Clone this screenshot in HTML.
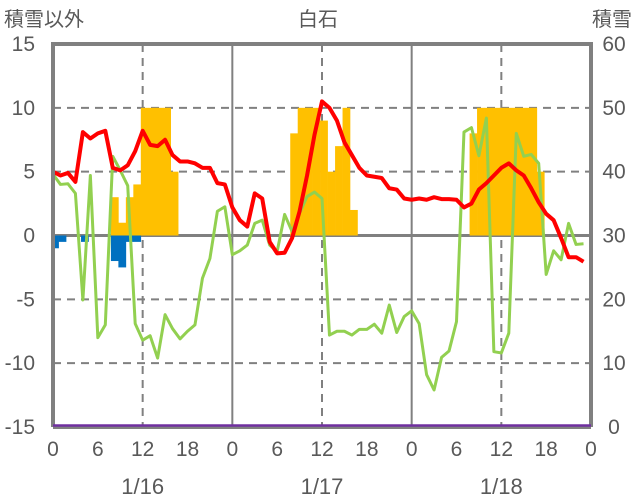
<!DOCTYPE html>
<html><head><meta charset="utf-8"><style>
body{margin:0;background:#fff;}
svg{display:block;font-family:"Liberation Sans","Noto Sans CJK JP",sans-serif;}
</style></head><body>
<svg id="chart" width="636" height="501">
<text x="318" y="26" font-size="20" fill="#595959" text-anchor="middle">白石</text>
<text x="4" y="26" font-size="20" fill="#595959">積雪以外</text>
<text x="632" y="26" font-size="20" fill="#595959" text-anchor="end">積雪</text>
<g id="grid"></g>
<g id="bars"></g>
<g id="lines"></g>
<g id="frame"></g>
<g id="labels"></g>
</svg>
<script>
const orangeVals=[0,0,0,0,0,0,0,0,3,1,3,4,10,10,10,10,5,0,0,0,0,0,0,0,0,0,0,0,0,0,0,0,8,10,10,10,9,5,7,10,2,0,0,0,0,0,0,0,0,0,0,0,0,0,0,0,8,10,10,10,10,10,10,10,10,5,0,0,0,0,0,0];
const blueVals=[-1,-0.5,0,0,-0.5,0,0,0,-2,-2.5,-0.5,-0.5];
const redVals=[5.0,4.7,4.9,4.2,8.1,7.6,8.0,8.2,5.3,5.1,5.5,6.6,8.2,7.1,7.0,7.5,6.3,5.8,5.8,5.65,5.3,5.3,4.1,4.0,2.2,1.2,0.7,3.3,2.9,-0.5,-1.4,-1.35,-0.2,1.9,4.7,7.9,10.5,10.0,9.0,7.3,6.3,5.3,4.7,4.6,4.5,3.7,3.6,2.9,2.8,2.9,2.8,3.0,2.85,2.85,2.8,2.2,2.5,3.6,4.1,4.7,5.3,5.65,5.1,4.7,3.7,2.6,1.7,1.2,-0.2,-1.7,-1.7,-2.05];
const greenVals=[4.8,4.0,4.05,3.3,-5.05,4.7,-8.0,-7.0,6.2,5.1,3.9,-6.9,-8.2,-7.85,-9.6,-6.2,-7.3,-8.1,-7.5,-7.0,-3.35,-1.8,1.9,2.25,-1.5,-1.2,-0.75,0.95,1.2,-0.75,-1.25,1.65,0.3,1.75,3.05,3.4,2.9,-7.8,-7.5,-7.5,-7.8,-7.35,-7.35,-6.95,-7.65,-5.45,-7.6,-6.35,-5.9,-6.9,-10.9,-12.1,-9.55,-9.05,-6.75,8.1,8.45,6.25,9.2,-9.1,-9.2,-7.65,8.0,6.2,6.35,5.65,-3.05,-1.2,-1.9,0.95,-0.7,-0.65];
const leftTicks=[15,10,5,0,-5,-10,-15];
const rightTicks=[60,50,40,30,20,10,0];
const hourTicks=[0,6,12,18];
const dates=["1/16","1/17","1/18"];

const NS="http://www.w3.org/2000/svg";
const X0=53,X1=591,Y0=44,Y1=427;
const xs=h=>X0+(X1-X0)*h/72;
const ys=v=>Y1-(v+15)/30*(Y1-Y0);
function mk(parent,tag,attrs){const e=document.createElementNS(NS,tag);for(const k in attrs)e.setAttribute(k,attrs[k]);document.getElementById(parent).appendChild(e);return e;}

[10,5,-5,-10].forEach(v=>{const l=mk('grid','line',{x1:X0,x2:X1,y1:ys(v),y2:ys(v),stroke:'#808080','stroke-width':2,'stroke-dasharray':'8,6'});

});
[12,36,60].forEach(h=>{const l=mk('grid','line',{x1:xs(h),x2:xs(h),y1:Y0,y2:Y1,stroke:'#808080','stroke-width':2,'stroke-dasharray':'8,6'});

});
[24,48].forEach(h=>{const l=mk('grid','line',{x1:xs(h),x2:xs(h),y1:Y0,y2:Y1,stroke:'#808080','stroke-width':2});

});

const bw=(X1-X0)/72;
function bar(h,v,color,name){if(!v)return;let x=xs(h-0.25),w=bw;if(x<X0){w-=X0-x;x=X0;}
const y=Math.min(ys(v),ys(0)),hh=Math.abs(ys(v)-ys(0));
const r=mk('bars','rect',{x:x,y:y,width:w+0.3,height:hh,fill:color});

}
orangeVals.forEach((v,i)=>bar(i,v,'#FFC000','snow-bar'));
blueVals.forEach((v,i)=>bar(i,v,'#0070C0','negative-bar'));

const z=mk('grid','line',{x1:X0,x2:X1,y1:ys(0),y2:ys(0),stroke:'#808080','stroke-width':3});



function line(vals,color,w,name){const p=mk('lines','polyline',{points:vals.map((v,i)=>xs(i)+','+ys(v)).join(' '),fill:'none',stroke:color,'stroke-width':w,'stroke-linejoin':'round'});

}
line(greenVals,'#92D050',3,'green-series-line');
line(redVals,'#FF0000',4,'temperature-line');

const fr=mk('frame','path',{d:`M${X0},${Y1} L${X0},${Y0} L${X1},${Y0} L${X1},${Y1}`,fill:'none',stroke:'#808080','stroke-width':4});


const bl=mk('frame','line',{x1:X0,x2:X1,y1:Y1,y2:Y1,stroke:'#808080','stroke-width':4});


const pl=mk('frame','line',{x1:X0,x2:X1,y1:Y1-1.5,y2:Y1-1.5,stroke:'#7030A0','stroke-width':2.5});



function txt(x,y,s,anchor,name,fs){const t=mk('labels','text',{x:x,y:y,'font-size':fs||21,fill:'#595959','text-anchor':anchor});t.textContent=s;

}
leftTicks.forEach(v=>txt(35,ys(v)+7,String(v),'end','left-tick-label'));
rightTicks.forEach((v,i)=>txt(614,Y0+i*(Y1-Y0)/6+7,String(v),'middle','right-tick-label'));
for(let d=0;d<3;d++){hourTicks.forEach(h=>txt(xs(d*24+h),456,String(h),'middle','x-tick-label'));
txt(xs(d*24+12),494,dates[d],'middle','date-label',22);}
txt(xs(72),456,'0','middle','x-tick-label');
</script>
</body></html>
